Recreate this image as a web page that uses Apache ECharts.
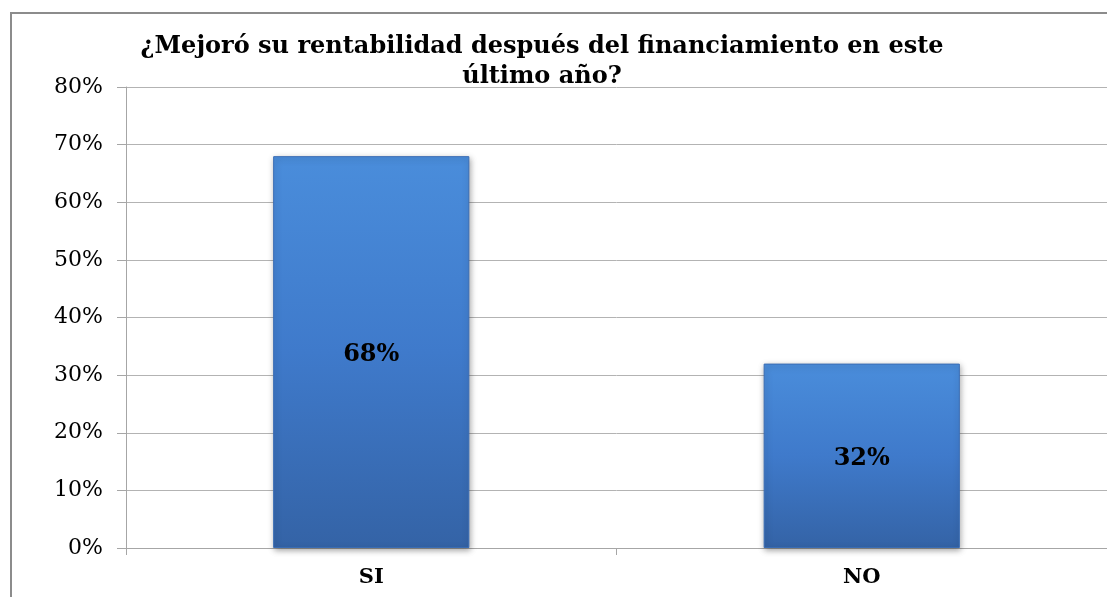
<!DOCTYPE html>
<html>
<head>
<meta charset="utf-8">
<script src="https://cdn.jsdelivr.net/npm/echarts@6/dist/echarts.min.js"></script>
<style>
  html, body { margin: 0; padding: 0; background: #fff; }
  #chart { width: 1107px; height: 597px; }
</style>
</head>
<body>
<div id="chart"></div>
<script>
// datos del gráfico
var categorias = ['SI', 'NO'];
var valores = [68, 32];
var ticksY = [0, 10, 20, 30, 40, 50, 60, 70, 80];

var serif = '"DejaVu Serif", "Liberation Serif", serif';
var myChart = echarts.init(document.getElementById('chart'));

myChart.setOption({
  backgroundColor: '#fff',
  animation: false,
  title: {
    text: '¿Mejoró su rentabilidad después del financiamiento en este\núltimo año?',
    left: 537,
    top: 27,
    textAlign: 'center',
    textStyle: {
      fontFamily: serif,
      fontSize: 24,
      fontWeight: 'bold',
      color: '#000',
      lineHeight: 30
    }
  },
  graphic: [{
    type: 'rect',
    shape: { x: 11, y: 13, width: 1200, height: 700 },
    style: { fill: 'none', stroke: '#8c8c8c', lineWidth: 2 },
    silent: true,
    z: -1
  }],
  grid: {
    left: 126,
    top: 87,
    right: -7,
    bottom: 49
  },
  xAxis: {
    type: 'category',
    data: categorias,
    axisLine: { lineStyle: { color: '#a6a6a6', width: 1 } },
    axisTick: { show: true, length: 7, lineStyle: { color: '#a6a6a6' } },
    axisLabel: {
      margin: 19,
      fontFamily: serif,
      fontSize: 21,
      fontWeight: 'bold',
      color: '#000'
    }
  },
  yAxis: {
    type: 'value',
    min: 0,
    max: 80,
    interval: 10,
    axisLine: { show: true, lineStyle: { color: '#a6a6a6', width: 1 } },
    axisTick: { show: true, length: 9, lineStyle: { color: '#a6a6a6' } },
    splitLine: { lineStyle: { color: '#b3b3b3', width: 1 } },
    axisLabel: {
      margin: 23,
      fontFamily: serif,
      fontSize: 22,
      color: '#000',
      formatter: function (v) { return ticksY.indexOf(v) >= 0 ? v + '%' : ''; }
    }
  },
  series: [{
    name: 'Porcentaje',
    type: 'bar',
    data: valores,
    barWidth: '40%',
    itemStyle: {
      color: new echarts.graphic.LinearGradient(0, 0, 0, 1, [
        { offset: 0, color: '#4a8ddb' },
        { offset: 0.5, color: '#3f7acb' },
        { offset: 1, color: '#3463a6' }
      ]),
      borderColor: '#3a6db5',
      borderWidth: 1,
      shadowColor: 'rgba(0,0,0,0.35)',
      shadowBlur: 6,
      shadowOffsetX: 1,
      shadowOffsetY: 2
    },
    label: {
      show: true,
      position: 'inside',
      offset: [0, 3],
      formatter: '{c}%',
      fontFamily: serif,
      fontSize: 24,
      fontWeight: 'bold',
      color: '#000'
    }
  }]
});
</script>
</body>
</html>
